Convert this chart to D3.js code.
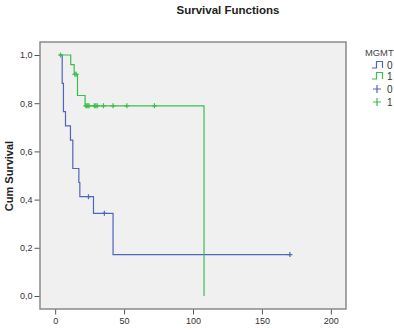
<!DOCTYPE html>
<html>
<head>
<meta charset="utf-8">
<script src="https://cdn.jsdelivr.net/npm/d3@7"></script>
<style>
  html, body { margin: 0; padding: 0; background: #ffffff; }
  svg { display: block; font-family: "Liberation Sans", Arial, sans-serif; }
</style>
</head>
<body>
<svg id="chart" width="394" height="330"></svg>
<script>
// Kaplan-Meier step values per MGMT group (time, cumulative survival)
const group0Times = [3, 5.1, 6.0, 7.5, 11.1, 12.8, 17.2, 17.9, 27.8, 42, 170.3];
const group0Surv  = [1, 0.882, 0.765, 0.706, 0.647, 0.529, 0.471, 0.412, 0.343, 0.172, 0.172];
const group0Censored = [24.2, 35.7, 170.3];

const group1Times = [2.9, 11.3, 13.8, 16.2, 21.7, 108];
const group1Surv  = [1, 0.96, 0.92, 0.832, 0.789, 0];
const group1Censored = [3.9, 14.3, 15.2, 22.3, 23.0, 23.8, 24.5, 28.5, 29.5, 30.5, 35, 42, 52, 72];

const xTicks = [0, 50, 100, 150, 200];
const yTicks = [0, 0.2, 0.4, 0.6, 0.8, 1.0];
const groupLabels = ["0", "1"];
const groupColors = ["#4f66ba", "#3bbd4f"];

const svg = d3.select("#chart");
const plot = { left: 40, top: 42, right: 346, bottom: 309 };

const x = d3.scaleLinear().domain([-11, 211]).range([plot.left, plot.right]);
const y = d3.scaleLinear().domain([-0.054, 1.054]).range([plot.bottom, plot.top]);

// Plot background and frame
svg.append("rect")
  .attr("x", plot.left).attr("y", plot.top)
  .attr("width", plot.right - plot.left).attr("height", plot.bottom - plot.top)
  .attr("fill", "#f0f0f0").attr("stroke", "#8a8a8a").attr("stroke-width", 1.5);

// Title
svg.append("text")
  .attr("x", 228).attr("y", 14)
  .attr("text-anchor", "middle")
  .attr("font-size", 11.5).attr("font-weight", "bold").attr("fill", "#222")
  .text("Survival Functions");

// Y axis label
svg.append("text")
  .attr("transform", "translate(12.5,176) rotate(-90)")
  .attr("text-anchor", "middle")
  .attr("font-size", 11).attr("font-weight", "bold").attr("fill", "#222")
  .text("Cum Survival");

const fmt = v => d3.format(".1f")(v).replace(".", ",");

// Axes
const yAxis = svg.append("g")
  .attr("transform", `translate(${plot.left - 0.5},0)`)
  .call(d3.axisLeft(y).tickValues(yTicks).tickFormat(fmt).tickSize(5).tickPadding(2));
const xAxis = svg.append("g")
  .attr("transform", `translate(0,${plot.bottom + 0.5})`)
  .call(d3.axisBottom(x).tickValues(xTicks).tickFormat(d3.format("d")).tickSize(5).tickPadding(3));
[yAxis, xAxis].forEach(a => {
  a.select(".domain").remove();
  a.selectAll(".tick line").attr("stroke", "#555");
  a.selectAll(".tick text").attr("font-size", 9).attr("fill", "#333")
    .attr("font-family", "'Liberation Sans', Arial, sans-serif");
});

// Survival value at time t from step arrays
function survAt(times, surv, t) {
  let s = surv[0];
  for (let i = 0; i < times.length; i++) if (times[i] <= t) s = surv[i];
  return s;
}

const stepLine = d3.line()
  .x(d => x(d[0])).y(d => y(d[1]))
  .curve(d3.curveStepAfter);

const groups = [
  { times: group0Times, surv: group0Surv, cens: group0Censored, color: groupColors[0] },
  { times: group1Times, surv: group1Surv, cens: group1Censored, color: groupColors[1] }
];

groups.forEach(g => {
  const pts = g.times.map((t, i) => [t, g.surv[i]]);
  svg.append("path")
    .attr("d", stepLine(pts))
    .attr("fill", "none").attr("stroke", g.color).attr("stroke-width", 1.2);
  const cg = svg.append("g").attr("stroke", g.color).attr("stroke-width", 1.2);
  g.cens.forEach(t => {
    const cx = x(t), cy = y(survAt(g.times, g.surv, t));
    cg.append("path").attr("d", `M${cx - 2.5},${cy}H${cx + 2.5}M${cx},${cy - 2.5}V${cy + 2.5}`);
  });
});

// Legend
const lg = svg.append("g").attr("font-size", 10).attr("fill", "#333");
lg.append("text").attr("x", 365).attr("y", 56).attr("font-size", 9.4).attr("fill", "#444").text("MGMT");
const rowY = [65, 76, 89, 102];
groupLabels.forEach((lab, i) => {
  const yy = rowY[i];
  lg.append("path")
    .attr("d", `M372,${yy + 3}H376.5V${yy - 3.5}H382.5V${yy + 3}`)
    .attr("fill", "none").attr("stroke", groupColors[i]).attr("stroke-width", 1.2);
  lg.append("text").attr("x", 387).attr("y", yy + 3.5).attr("fill", "#333").text(lab);
});
groupLabels.forEach((lab, i) => {
  const yy = rowY[i + 2];
  lg.append("path")
    .attr("d", `M373,${yy}H381M377,${yy - 4}V${yy + 4}`)
    .attr("stroke", groupColors[i]).attr("stroke-width", 1.2);
  lg.append("text").attr("x", 387).attr("y", yy + 3.5).attr("fill", "#333").text(lab);
});
</script>
</body>
</html>
